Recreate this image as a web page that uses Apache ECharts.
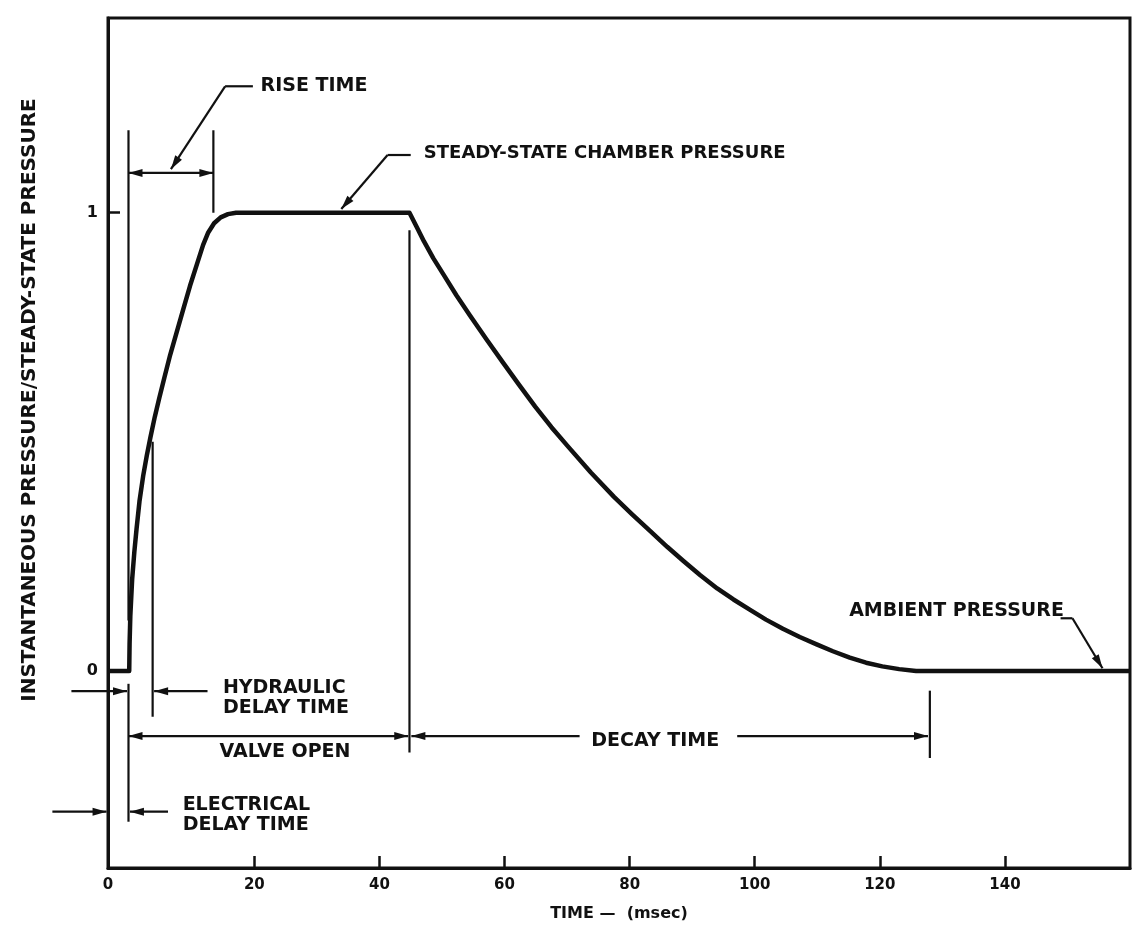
<!DOCTYPE html>
<html><head><meta charset="utf-8">
<script src="https://cdn.jsdelivr.net/npm/echarts@6/dist/echarts.min.js"></script>
<style>html,body{margin:0;padding:0;background:#fff}#c{width:1134px;height:935px}</style>
</head><body><div id="c"></div>
<script>
// ---------------- data ----------------
const xTickLabels = [0, 20, 40, 60, 80, 100, 120, 140];
const yTickLabels = [0, 1];
const xMax = 160;
const earlyStretch = 1.17; // the original drawing widens the first 20 ms of the time axis

// normalised chamber pressure vs time (msec)
const pressureT = [0, 2.9, 2.95, 3.05, 3.3, 3.6, 3.9, 4.3, 4.8, 5.3, 5.8, 6.4, 7.0, 7.7, 8.5, 9.4, 10.3, 11.2,
  12.2, 13.0, 13.7, 14.5, 15.4, 16.4, 17.5, 20, 30, 44.8,
  46.0, 47.1, 48.6, 50.2, 52.3, 54.5, 57.1, 59.7, 62.3, 64.9, 67.5, 70.2, 73.8, 77.5, 80.4, 83.3, 86.0, 88.6, 91.3, 94,
  96.6, 99.2, 101.8, 104.5, 107.2, 109.9, 112.5, 115.2, 117.8, 120.4, 123.1, 125.8, 128, 140, 160];
const pressureV = [0, 0, 0.06, 0.12, 0.20, 0.26, 0.31, 0.37, 0.425, 0.47, 0.51, 0.555, 0.595, 0.64, 0.69, 0.74, 0.79, 0.84,
  0.89, 0.93, 0.957, 0.977, 0.99, 0.997, 1, 1, 1, 1,
  0.968, 0.938, 0.901, 0.866, 0.82, 0.775, 0.724, 0.674, 0.625, 0.577, 0.532, 0.489, 0.433, 0.38, 0.342, 0.305, 0.271, 0.24, 0.209, 0.18,
  0.156, 0.134, 0.112, 0.092, 0.074, 0.058, 0.043, 0.029, 0.018, 0.01, 0.004, 0, 0, 0, 0];

// annotation segments (time msec, ratio)
const segT1 = [2.8, 14.4, 2.8, 19.8, 16.0, 45.0, 41.3, 148.9, 150.8, 6.1, -5.0, 13.6, 2.8, -7.6, 8.2, 2.8, 44.8, 72.0, 97.2, 128];
const segV1 = [1.18, 1.18, 1.087, 1.276, 1.276, 1.126, 1.126, 0.115, 0.115, 0.5, -0.044, -0.044, -0.028, -0.307, -0.307, -0.142, 0.962, -0.142, -0.142, -0.043];
const segT2 = [2.8, 14.4, 14.4, 16.0, 8.6, 41.3, 33.9, 150.8, 155.6, 6.1, 2.6, 6.3, 2.8, -0.2, 3.0, 44.6, 44.8, 45.1, 127.7, 128];
const segV2 = [0.11, 1.0, 1.087, 1.276, 1.095, 1.126, 1.008, 0.115, 0.006, -0.1, -0.044, -0.044, -0.329, -0.307, -0.307, -0.142, -0.178, -0.142, -0.142, -0.19];
const segHead = ['none', 'none', 'both', 'none', 'end', 'none', 'end', 'none', 'end', 'none', 'end', 'end', 'none', 'end', 'end', 'both', 'none', 'end', 'end', 'none'];

// annotation labels
const labelText = ['RISE TIME', 'STEADY-STATE CHAMBER PRESSURE', 'AMBIENT PRESSURE', 'HYDRAULIC', 'DELAY TIME',
  'VALVE OPEN', 'DECAY TIME', 'ELECTRICAL', 'DELAY TIME'];
const labelT = [21.0, 47.1, 115.1, 15.7, 15.7, 24.9, 84.1, 10.2, 10.2];
const labelV = [1.276, 1.13, 0.131, -0.038, -0.082, -0.177, -0.152, -0.292, -0.336];
const labelAlign = ['left', 'left', 'left', 'left', 'left', 'center', 'center', 'left', 'left'];

const yTitle = 'INSTANTANEOUS PRESSURE/STEADY-STATE PRESSURE';
const xTitle = 'TIME \u2014  (msec)';

// ---------------- chart ----------------
function warp(t) { return t <= 20 ? t * earlyStretch : 20 * earlyStretch + (t - 20); }
function unwarp(u) { return u <= 20 * earlyStretch ? u / earlyStretch : u - 20 * earlyStretch + 20; }

const FONT = '"DejaVu Sans", sans-serif';
const INK = '#111';

const curve = pressureT.map((t, i) => [warp(t), pressureV[i]]);
const segs = segT1.map((t, i) => [warp(t), segV1[i], warp(segT2[i]), segV2[i], i]);
const labels = labelT.map((t, i) => [warp(t), labelV[i], i]);

function arrowHead(tip, from) {
  const dx = tip[0] - from[0], dy = tip[1] - from[1];
  const len = Math.hypot(dx, dy) || 1;
  const ux = dx / len, uy = dy / len;
  const L = 14, W = 4;
  const bx = tip[0] - ux * L, by = tip[1] - uy * L;
  return { type: 'polygon', shape: { points: [[tip[0], tip[1]], [bx - uy * W, by + ux * W], [bx + uy * W, by - ux * W]] },
    style: { fill: INK } };
}

const chart = echarts.init(document.getElementById('c'), null, { renderer: 'canvas' });
chart.setOption({
  animation: false,
  backgroundColor: '#fff',
  grid: { left: 108, right: 4, top: 18, bottom: 67, show: true, borderColor: INK, borderWidth: 3, backgroundColor: 'transparent' },
  xAxis: {
    type: 'value', min: 0, max: warp(xMax),
    axisLine: { show: true, onZero: false, lineStyle: { color: INK, width: 3 } },
    splitLine: { show: false },
    axisTick: { show: true, inside: true, length: 12, lineStyle: { color: INK, width: 2.5 },
      customValues: xTickLabels.slice(1).map(warp) },
    axisLabel: { customValues: xTickLabels.map(warp), margin: 10, color: INK,
      fontFamily: FONT, fontWeight: 'bold', fontSize: 15,
      formatter: v => String(Math.round(unwarp(v))) },
    name: xTitle, nameLocation: 'middle', nameGap: 38,
    nameTextStyle: { color: INK, fontFamily: FONT, fontWeight: 'bold', fontSize: 16 }
  },
  yAxis: {
    type: 'value', min: -0.43, max: 1.425,
    axisLine: { show: true, onZero: false, lineStyle: { color: INK, width: 3 } },
    splitLine: { show: false },
    axisTick: { show: true, inside: true, length: 12, lineStyle: { color: INK, width: 2.5 }, customValues: yTickLabels },
    axisLabel: { customValues: yTickLabels, margin: 10, color: INK, fontFamily: FONT, fontWeight: 'bold', fontSize: 16 }
  },
  graphic: [{
    type: 'text', x: 30, y: 400, rotation: Math.PI / 2,
    style: { text: yTitle, fill: INK, font: 'bold 20px ' + FONT, align: 'center', verticalAlign: 'middle' }
  }],
  series: [
    {
      type: 'line', data: curve, showSymbol: false, smooth: false,
      lineStyle: { color: INK, width: 4.5, join: 'round' }, z: 5, silent: true
    },
    {
      type: 'custom', data: segs, clip: false, silent: true, z: 6,
      encode: { x: [0, 2], y: [1, 3] },
      renderItem: function (params, api) {
        const p1 = api.coord([api.value(0), api.value(1)]);
        const p2 = api.coord([api.value(2), api.value(3)]);
        const head = segHead[api.value(4)];
        const children = [{ type: 'line', shape: { x1: p1[0], y1: p1[1], x2: p2[0], y2: p2[1] },
          style: { stroke: INK, lineWidth: 2.2 } }];
        if (head === 'end' || head === 'both') children.push(arrowHead(p2, p1));
        if (head === 'both') children.push(arrowHead(p1, p2));
        return { type: 'group', children: children };
      }
    },
    {
      type: 'custom', data: labels, clip: false, silent: true, z: 7,
      encode: { x: 0, y: 1 },
      renderItem: function (params, api) {
        const p = api.coord([api.value(0), api.value(1)]);
        const i = api.value(2);
        return { type: 'text', x: p[0], y: p[1],
          style: { text: labelText[i], fill: INK, font: 'bold ' + (i === 1 ? 18 : 19) + 'px ' + FONT,
            align: labelAlign[i], verticalAlign: 'middle' } };
      }
    }
  ]
});
</script>
</body></html>
